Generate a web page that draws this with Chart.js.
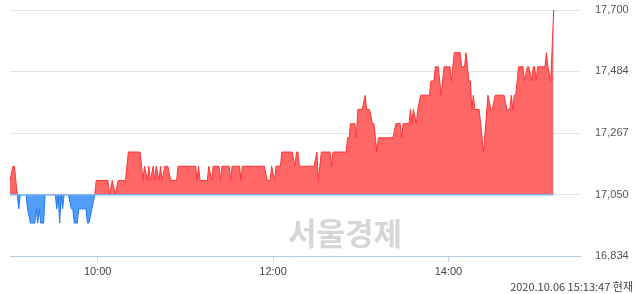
<!DOCTYPE html>
<html>
<head>
<meta charset="utf-8">
<script src="https://cdn.jsdelivr.net/npm/chart.js@4"></script>
<style>
  html, body { margin: 0; padding: 0; background: #fff; }
  #wrap { width: 640px; height: 294px; }
</style>
</head>
<body>
<div id="wrap"><canvas id="stockChart" width="640" height="294"></canvas></div>
<script>
// minutes after 09:00 and price at each vertex of the intraday line
const minutes = [0, 2, 3, 5, 6, 7, 11, 12, 14, 17, 18, 19, 20, 21, 23, 24, 31, 32, 33, 34, 35, 36, 37, 40, 42, 43, 44, 46, 47, 52, 53, 54, 56, 58, 59, 67, 68, 70, 72, 74, 79, 81, 89, 90, 91, 92, 94, 95, 96, 98, 99, 100, 102, 103, 104, 106, 108, 110, 114, 115, 127, 128, 129, 130, 135, 136, 138, 139, 143, 144, 145, 150, 151, 152, 157, 158, 159, 174, 176, 178, 179, 181, 182, 185, 186, 193, 195, 196, 197, 198, 208, 210, 211, 213, 219, 220, 221, 230, 231, 232, 233, 236, 237, 238, 241, 243, 244, 246, 248, 249, 250, 251, 252, 262, 264, 267, 268, 269, 273, 274, 275, 276, 278, 279, 281, 287, 288, 290, 291, 293, 295, 297, 301, 302, 304, 308, 309, 311, 312, 314, 315, 316, 317, 318, 321, 324, 327, 329, 330, 332, 338, 340, 342, 343, 344, 345, 346, 348, 351, 352, 354, 355, 357, 358, 359, 360, 361, 366, 367, 368, 370, 372];
const prices = [17100, 17150, 17150, 17050, 17000, 17050, 17050, 17000, 16950, 16950, 17000, 16950, 17000, 16950, 16950, 17050, 17050, 17000, 17050, 16950, 17050, 17000, 17050, 17050, 17000, 17000, 16950, 16950, 17000, 17000, 16950, 16950, 17000, 17050, 17100, 17100, 17050, 17100, 17050, 17100, 17100, 17200, 17200, 17150, 17100, 17150, 17100, 17150, 17100, 17150, 17100, 17150, 17100, 17150, 17100, 17150, 17150, 17100, 17100, 17150, 17150, 17100, 17150, 17100, 17100, 17150, 17100, 17150, 17150, 17100, 17150, 17150, 17100, 17150, 17150, 17100, 17150, 17150, 17100, 17100, 17150, 17100, 17150, 17150, 17200, 17200, 17150, 17200, 17200, 17150, 17150, 17200, 17100, 17200, 17200, 17150, 17200, 17200, 17250, 17250, 17300, 17300, 17250, 17350, 17350, 17400, 17350, 17350, 17300, 17300, 17250, 17200, 17250, 17250, 17300, 17300, 17250, 17300, 17300, 17350, 17300, 17350, 17300, 17350, 17400, 17400, 17450, 17450, 17500, 17500, 17400, 17500, 17500, 17450, 17550, 17550, 17500, 17500, 17550, 17450, 17450, 17350, 17400, 17350, 17350, 17200, 17400, 17350, 17350, 17400, 17400, 17350, 17350, 17400, 17350, 17400, 17400, 17500, 17500, 17450, 17500, 17500, 17450, 17500, 17500, 17450, 17500, 17500, 17550, 17500, 17450, 17700];

const prevClose = 17050;
const yTicks = [16834, 17050, 17267, 17484, 17700];
const xTicks = [60, 180, 300];
const xLabels = ['10:00', '12:00', '14:00'];
const stampText = '2020.10.06 15:13:47 현재';
const watermark = '서울경제';

const UP_LINE = '#ff3434';
const UP_FILL = 'rgba(255, 94, 94, 0.95)';
const DOWN_LINE = '#1c78f2';
const DOWN_FILL = 'rgba(66, 150, 250, 0.92)';

const pricePoints = minutes.map((m, i) => ({ x: m, y: prices[i] }));
const basePoints = [
  { x: minutes[0], y: prevClose },
  { x: minutes[minutes.length - 1], y: prevClose }
];

// watermark behind the line, timestamp under the axis
const textPlugin = {
  id: 'extraText',
  beforeDatasetsDraw(chart) {
    const c = chart.ctx;
    c.save();
    c.font = 'bold 31px "Noto Sans CJK KR"';
    c.fillStyle = '#d6d6d6';
    c.textAlign = 'center';
    c.textBaseline = 'middle';
    c.fillText(watermark, 345, 233);
    c.restore();
  },
  afterDraw(chart) {
    const c = chart.ctx;
    c.save();
    c.font = '11px "Noto Sans CJK KR"';
    c.fillStyle = '#444';
    c.textAlign = 'right';
    c.textBaseline = 'middle';
    c.fillText(stampText, 633, 287);
    c.restore();
  }
};

new Chart(document.getElementById('stockChart'), {
  type: 'line',
  data: {
    datasets: [
      {
        data: basePoints,
        borderColor: '#86b2f2',
        borderWidth: 1.5,
        pointRadius: 0,
        fill: false,
        order: 0
      },
      {
        data: pricePoints,
        borderWidth: 1,
        pointRadius: 0,
        tension: 0,
        clip: false,
        fill: { target: { value: prevClose }, above: UP_FILL, below: DOWN_FILL },
        segment: {
          borderColor: ctx => (ctx.p0.parsed.y > prevClose || ctx.p1.parsed.y > prevClose) ? UP_LINE : DOWN_LINE
        },
        order: 1
      }
    ]
  },
  options: {
    responsive: false,
    animation: false,
    layout: { autoPadding: false, padding: { left: 10, top: 10, right: 0, bottom: 0 } },
    plugins: {
      legend: { display: false },
      tooltip: { enabled: false }
    },
    scales: {
      x: {
        type: 'linear',
        min: 0,
        max: 390,
        afterBuildTicks: axis => { axis.ticks = xTicks.map(v => ({ value: v })); },
        afterFit: axis => { axis.height = 38; },
        ticks: {
          color: '#444',
          font: { family: '"Liberation Sans"', size: 11 },
          padding: 3,
          maxRotation: 0,
          callback: v => xLabels[xTicks.indexOf(v)]
        },
        grid: { drawOnChartArea: false, drawTicks: true, tickLength: 6, color: '#c3d3ec' },
        border: { display: true, color: '#b4c8e8' }
      },
      y: {
        position: 'right',
        min: 16834,
        max: 17700,
        afterBuildTicks: axis => { axis.ticks = yTicks.map(v => ({ value: v })); },
        // label padding would otherwise push the plot top down
        afterFit: axis => {
          axis.width = 60;
          axis.paddingTop = 6;
          axis.paddingBottom = 6;
        },
        ticks: {
          color: '#555',
          font: { family: '"Liberation Sans"', size: 11 },
          padding: 15,
          callback: v => v.toLocaleString('en-US')
        },
        grid: { color: '#e3e3e3', drawTicks: false },
        border: { display: false }
      }
    }
  },
  plugins: [textPlugin]
});
</script>
</body>
</html>
